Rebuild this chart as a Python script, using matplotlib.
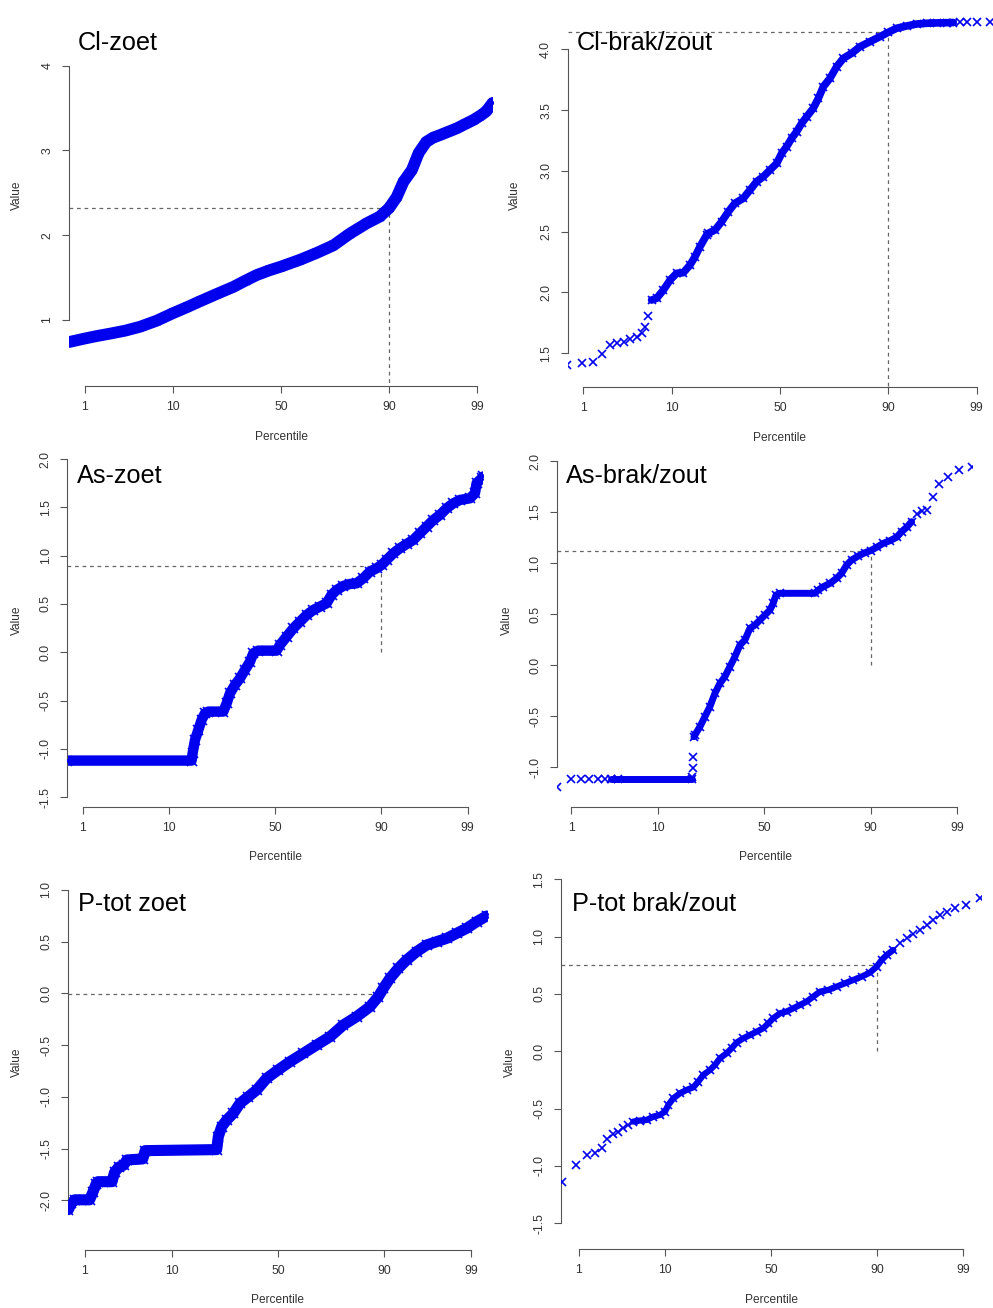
import numpy as np
import matplotlib
matplotlib.use("Agg")
import matplotlib.pyplot as plt
from statistics import NormalDist

plt.rcParams['font.family'] = ['Liberation Sans', 'DejaVu Sans']

# ------------------------------------------------------------------ data
# x = theoretical normal quantile (probability scale), y = value
percentile_ticks = [1, 10, 50, 90, 99]

cl_zoet_q = [-2.51, -2.33, -2.18, -2.02, -1.846, -1.67, -1.471, -1.28, -1.116, -0.96,
             -0.761, -0.565, -0.42, -0.288, -0.14, 0.0, 0.225,
             0.42, 0.62, 0.817, 1.014, 1.17, 1.28, 1.37, 1.45, 1.55, 1.63,
             1.72, 1.80, 1.88, 1.98, 2.08, 2.18, 2.28, 2.36, 2.43, 2.505]
cl_zoet_val = [0.74, 0.78, 0.811, 0.84, 0.874, 0.92, 0.992, 1.08, 1.15, 1.22,
               1.307, 1.39, 1.465, 1.53, 1.585, 1.63, 1.71,
               1.79, 1.88, 2.02, 2.14, 2.22, 2.32, 2.45, 2.63, 2.77, 2.97,
               3.10, 3.15, 3.18, 3.22, 3.26, 3.31, 3.36, 3.41, 3.46, 3.56]
cl_zoet_p90 = 2.32

cl_brak_q = [-2.517, -2.343, -2.217, -2.11, -2.01, -1.93, -1.85, -1.775, -1.696, -1.637,
             -1.598, -1.558, -1.519, -1.46, -1.38, -1.30, -1.223, -1.144, -1.065, -1.006,
             -0.947, -0.868, -0.848, -0.769, -0.69, -0.611, -0.533, -0.434, -0.355, -0.276,
             -0.197, -0.118, -0.039, 0.02, 0.079, 0.138, 0.197, 0.256, 0.316, 0.394,
             0.454, 0.513, 0.592, 0.67, 0.75, 0.848, 0.947, 1.065, 1.183, 1.282,
             1.38, 1.5, 1.617, 1.736, 1.854, 1.972, 2.05, 2.13, 2.21, 2.33, 2.485]
cl_brak_val = [1.404, 1.418, 1.426, 1.494, 1.568, 1.582, 1.595, 1.615, 1.632, 1.664,
               1.719, 1.807, 1.938, 1.952, 2.02, 2.103, 2.158, 2.163, 2.226, 2.294,
               2.377, 2.473, 2.487, 2.514, 2.583, 2.665, 2.734, 2.775, 2.843, 2.912,
               2.953, 3.008, 3.062, 3.145, 3.2, 3.268, 3.323, 3.391, 3.446, 3.515,
               3.597, 3.693, 3.762, 3.857, 3.926, 3.967, 4.022, 4.063, 4.104, 4.14,
               4.173, 4.192, 4.208, 4.214, 4.217, 4.219, 4.22, 4.221, 4.222, 4.225, 4.228]
cl_brak_p90 = 4.14

as_zoet_q = [-2.515, -1.012, -1.0, -0.971, -0.931, -0.891, -0.85, -0.81, -0.629, -0.588,
             -0.548, -0.488, -0.427, -0.367, -0.306, -0.266, -0.206, 0.016, 0.056, 0.137,
             0.218, 0.298, 0.379, 0.46, 0.54, 0.62, 0.68, 0.742, 0.822, 0.903,
             0.983, 1.064, 1.145, 1.225, 1.286, 1.346, 1.427, 1.507, 1.588, 1.669,
             1.749, 1.83, 1.911, 1.991, 2.072, 2.152, 2.233, 2.354, 2.414, 2.434,
             2.495, 2.515]
as_zoet_val = [-1.121, -1.121, -1.046, -0.907, -0.804, -0.70, -0.631, -0.614, -0.614, -0.528,
               -0.424, -0.338, -0.269, -0.183, -0.097, -0.01, 0.017, 0.017, 0.076, 0.162,
               0.248, 0.317, 0.386, 0.438, 0.473, 0.507, 0.594, 0.645, 0.687, 0.707,
               0.714, 0.766, 0.835, 0.87, 0.904, 0.956, 1.025, 1.077, 1.121, 1.163,
               1.232, 1.301, 1.37, 1.422, 1.491, 1.542, 1.577, 1.594, 1.646, 1.75,
               1.80, 1.82]
as_zoet_p90 = 0.893

as_brak_q = [-2.494, -2.333, -2.209, -2.108, -2.0, -1.92, -1.84, -1.76, -0.87, -0.865,
             -0.862, -0.855, -0.847, -0.835, -0.775, -0.715, -0.655, -0.594, -0.534, -0.474,
             -0.414, -0.353, -0.293, -0.233, -0.173, -0.112, -0.052, 0.008, 0.068, 0.108,
             0.141, 0.189, 0.61, 0.65, 0.711, 0.791, 0.871, 0.932, 0.992, 1.052,
             1.133, 1.213, 1.281, 1.353, 1.434, 1.514, 1.594, 1.655, 1.715, 1.775,
             1.835, 1.896, 1.956, 2.028, 2.108, 2.217, 2.345, 2.498]
as_brak_val = [-1.193, -1.121, -1.121, -1.121, -1.121, -1.121, -1.121, -1.121, -1.121, -1.095,
               -1.013, -0.905, -0.703, -0.686, -0.605, -0.507, -0.408, -0.278, -0.18, -0.114,
               -0.016, 0.082, 0.196, 0.245, 0.359, 0.392, 0.441, 0.49, 0.539, 0.605,
               0.686, 0.703, 0.703, 0.735, 0.768, 0.80, 0.85, 0.899, 0.98, 1.029,
               1.069, 1.101, 1.121, 1.154, 1.193, 1.219, 1.252, 1.307, 1.35, 1.405,
               1.48, 1.513, 1.52, 1.644, 1.775, 1.84, 1.912, 1.938]
as_brak_p90 = 1.12

p_zoet_q = [-2.526, -2.49, -2.45, -2.27, -2.23, -2.19, -2.17, -2.0, -1.97, -1.92,
            -1.86, -1.82, -1.63, -1.60, -0.739, -0.719, -0.679, -0.618, -0.538, -0.458,
            -0.357, -0.257, -0.137, 0.0, 0.145, 0.305, 0.466, 0.627, 0.787, 0.948,
            1.108, 1.209, 1.269, 1.349, 1.45, 1.55, 1.671, 1.791, 1.912, 2.032,
            2.153, 2.273, 2.394, 2.514]
p_zoet_val = [-2.09, -2.03, -1.995, -1.995, -1.92, -1.84, -1.82, -1.82, -1.73, -1.68,
              -1.66, -1.61, -1.60, -1.52, -1.51, -1.385, -1.288, -1.224, -1.159, -1.063,
              -0.998, -0.934, -0.821, -0.741, -0.66, -0.58, -0.499, -0.419, -0.306, -0.225,
              -0.129, -0.032, 0.048, 0.145, 0.242, 0.322, 0.403, 0.467, 0.499, 0.531,
              0.58, 0.628, 0.692, 0.747]
p_zoet_p90 = -0.01

p_brak_q = [-2.531, -2.358, -2.221, -2.128, -2.048, -1.979, -1.906, -1.846, -1.786, -1.725,
            -1.665, -1.584, -1.503, -1.423, -1.342, -1.282, -1.241, -1.181, -1.1, -1.02,
            -0.939, -0.879, -0.818, -0.738, -0.677, -0.617, -0.536, -0.476, -0.415, -0.335,
            -0.254, -0.173, -0.093, -0.032, 0.028, 0.109, 0.189, 0.27, 0.351, 0.431,
            0.512, 0.592, 0.693, 0.794, 0.895, 0.996, 1.096, 1.197, 1.278, 1.338,
            1.399, 1.479, 1.56, 1.64, 1.721, 1.802, 1.882, 1.963, 2.044, 2.124,
            2.225, 2.358, 2.527]
p_brak_val = [-1.136, -0.991, -0.904, -0.883, -0.846, -0.767, -0.721, -0.70, -0.671, -0.642,
              -0.613, -0.604, -0.599, -0.57, -0.555, -0.526, -0.468, -0.41, -0.366, -0.337,
              -0.314, -0.264, -0.206, -0.163, -0.119, -0.061, -0.017, 0.026, 0.076, 0.113,
              0.142, 0.171, 0.201, 0.244, 0.288, 0.331, 0.346, 0.375, 0.404, 0.433,
              0.477, 0.52, 0.535, 0.564, 0.593, 0.622, 0.651, 0.686, 0.738, 0.796,
              0.84, 0.883, 0.942, 0.985, 1.023, 1.058, 1.101, 1.145, 1.189, 1.218,
              1.247, 1.276, 1.334]
p_brak_p90 = 0.75

titles = ["Cl-zoet", "Cl-brak/zout", "As-zoet", "As-brak/zout", "P-tot zoet", "P-tot brak/zout"]

# ------------------------------------------------------------------ layout / style
W, H = 993, 1308
fig = plt.figure(figsize=(W / 100, H / 100), dpi=100)
fig.patch.set_facecolor('white')

nd = NormalDist()
xt = [nd.inv_cdf(p / 100.0) for p in percentile_ticks]
z90 = nd.inv_cdf(0.90)

BLUE = '#0000ee'
AXC = '#555555'
TXC = '#333333'

panels = [
    dict(q=cl_zoet_q, v=cl_zoet_val, ref=cl_zoet_p90, title=titles[0],
         box=(69, 493, 50, 386), xlim=(-2.51, 2.51), ylim=(0.2217, 4.184),
         yt=[1, 2, 3, 4], fmt='{:.0f}', dense=[(-3, 3)], lw=8.5, ms=6,
         tpos=(78, 43), xlab=(281, 437), ylab=(17, 195)),
    dict(q=cl_brak_q, v=cl_brak_val, ref=cl_brak_p90, title=titles[1],
         box=(567.7, 992.3, 10, 386.7), xlim=(-2.512, 2.512), ylim=(1.2253, 4.3232),
         yt=[1.5, 2.0, 2.5, 3.0, 3.5, 4.0], fmt='{:.1f}', dense=[(-1.52, 2.1)], lw=5.5, ms=5.8,
         tpos=(577, 43), xlab=(780, 438), ylab=(515, 195)),
    dict(q=as_zoet_q, v=as_zoet_val, ref=as_zoet_p90, title=titles[2],
         box=(67.3, 483.3, 450, 807.3), xlim=(-2.515, 2.515), ylim=(-1.6046, 2.094),
         yt=[-1.5, -1.0, -0.5, 0.0, 0.5, 1.0, 1.5, 2.0], fmt='{:.1f}', dense=[(-3, 3)], lw=7.5, ms=6.5,
         tpos=(77, 476), xlab=(275, 857), ylab=(17, 620)),
    dict(q=as_brak_q, v=as_brak_val, ref=as_brak_p90, title=titles[3],
         box=(556.7, 971.8, 450, 807.3), xlim=(-2.5, 2.5), ylim=(-1.395, 2.108),
         yt=[-1.0, -0.5, 0.0, 0.5, 1.0, 1.5, 2.0], fmt='{:.1f}', dense=[(-1.84, -0.87), (-0.847, 1.80)],
         lw=5.0, ms=5.8,
         tpos=(566, 476), xlab=(765, 857), ylab=(507, 620)),
    dict(q=p_zoet_q, v=p_zoet_val, ref=p_zoet_p90, title=titles[4],
         box=(67.7, 488.3, 880, 1250), xlim=(-2.534, 2.534), ylim=(-2.480, 1.095),
         yt=[-2.0, -1.5, -1.0, -0.5, 0.0, 0.5, 1.0], fmt='{:.1f}', dense=[(-3, 3)], lw=8.0, ms=6.5,
         tpos=(78, 904), xlab=(278, 1300), ylab=(17, 1062)),
    dict(q=p_brak_q, v=p_brak_val, ref=p_brak_p90, title=titles[5],
         box=(561, 981, 872, 1249), xlim=(-2.539, 2.539), ylim=(-1.724, 1.563),
         yt=[-1.5, -1.0, -0.5, 0.0, 0.5, 1.0, 1.5], fmt='{:.1f}', dense=[(-1.70, 1.50)], lw=4.5, ms=5.8,
         tpos=(572, 904), xlab=(771, 1300), ylab=(510, 1062)),
]

for P in panels:
    L, R, T, B = P['box']
    ax = fig.add_axes([L / W, 1 - B / H, (R - L) / W, (B - T) / H])
    ax.set_facecolor('none')
    ax.set_xlim(*P['xlim'])
    ax.set_ylim(*P['ylim'])

    q = np.asarray(P['q'], dtype=float)
    v = np.asarray(P['v'], dtype=float)

    # reference lines at the 90th percentile
    ax.plot([P['xlim'][0], z90], [P['ref'], P['ref']], color='#666666', lw=0.9,
            dashes=(3, 3), zorder=1)
    ax.plot([z90, z90], [0.0, P['ref']], color='#666666', lw=0.9,
            dashes=(3, 3), zorder=1)

    # dense parts of the point cloud
    for lo, hi in P['dense']:
        m = (q >= lo) & (q <= hi)
        ax.plot(q[m], v[m], '-', color=BLUE, lw=P['lw'], solid_capstyle='round',
                solid_joinstyle='round', zorder=2)
    # individual points
    ax.plot(q, v, 'x', color=BLUE, ms=P['ms'], mew=1.2, zorder=3, linestyle='none')

    for s in ['top', 'right']:
        ax.spines[s].set_visible(False)
    for s in ['left', 'bottom']:
        ax.spines[s].set_color(AXC)
        ax.spines[s].set_linewidth(0.8)
    ax.spines['left'].set_bounds(P['yt'][0], P['yt'][-1])
    ax.spines['bottom'].set_bounds(xt[0], xt[-1])

    ax.set_xticks(xt)
    ax.set_xticklabels([str(p) for p in percentile_ticks])
    ax.set_yticks(P['yt'])
    ax.set_yticklabels([P['fmt'].format(t) for t in P['yt']])
    ax.tick_params(direction='out', length=5.2, width=0.8, color=AXC,
                   labelcolor=TXC, labelsize=8.8)
    ax.tick_params(axis='x', pad=5.5)
    ax.tick_params(axis='y', pad=6, labelrotation=90)
    for t in ax.get_yticklabels():
        t.set_va('center')
        t.set_ha('right')

    tx, ty = P['tpos']
    fig.text(tx / W, 1 - ty / H, P['title'], ha='left', va='center',
             fontsize=18.2, color='black')
    lx, ly = P['xlab']
    fig.text(lx / W, 1 - ly / H, 'Percentile', ha='center', va='center',
             fontsize=8.6, color=TXC)
    vx, vy = P['ylab']
    fig.text(vx / W, 1 - vy / H, 'Value', ha='center', va='center',
             fontsize=8.6, color=TXC, rotation=90)

fig.savefig('out.png', dpi=100, facecolor='white')
